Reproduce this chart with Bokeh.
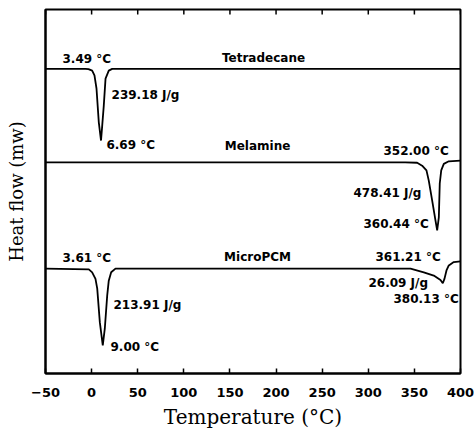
from bokeh.plotting import figure
from bokeh.models import Range1d, FixedTicker, ColumnDataSource
from bokeh.core.properties import value
from bokeh.embed import file_html
from bokeh.resources import INLINE

# ---- data ----
x_ticks = [-50, 0, 50, 100, 150, 200, 250, 300, 350, 400]

tetra_T = [-50, -6.6, -3.4, 0.6, 3.1, 5.3, 7.8, 10.2, 11.5, 13.2, 15.1, 18.6, 22.3, 400]
tetra_H = [83.7, 83.7, 83.6, 83.2, 81.9, 78.3, 69.0, 64.0, 68.1, 73.6, 81.0, 83.2, 83.7, 83.7]

mel_T = [-50, 340, 353.0, 358.4, 363.1, 365.6, 369.3, 372.9, 374.7, 376.5, 377.5, 379.1, 381.9, 387.3, 400]
mel_H = [58.0, 58.0, 57.9, 57.1, 55.8, 53.0, 47.5, 42.0, 39.3, 42.9, 52.2, 55.8, 57.6, 58.3, 58.5]

pcm_T = [-50, -3.0, 0.6, 4.2, 6.1, 8.9, 12.1, 14.3, 16.9, 18.6, 21.2, 25.9, 330,
         345.8, 360.2, 371.0, 378.3, 380.8, 382.6, 384.8, 387.3, 392.7, 400]
pcm_H = [28.8, 28.6, 27.8, 26.0, 23.3, 14.1, 7.7, 12.3, 21.4, 25.5, 27.8, 28.8, 28.8,
         28.8, 27.8, 26.9, 25.7, 24.8, 26.0, 28.3, 29.7, 30.6, 30.8]

ann_text = ["3.49 °C", "239.18 J/g", "6.69 °C",
            "352.00 °C", "478.41 J/g", "360.44 °C",
            "3.61 °C", "213.91 J/g", "9.00 °C",
            "361.21 °C", "26.09 J/g", "380.13 °C"]
ann_T = [-31.6, 21.6, 16.1, 316.5, 284.0, 294.8, -31.6, 23.7, 20.5, 307.8, 300.2, 327.3]
ann_H = [86.3, 76.6, 62.9, 61.0, 49.7, 41.2, 31.6, 18.7, 7.4, 31.9, 25.0, 20.6]

names = ["Tetradecane", "Melamine", "MicroPCM"]
name_T = [186.4, 179.9, 179.9]
name_H = [86.8, 62.4, 31.9]

Y_MIN, Y_MAX = 0, 100

# ---- figure ----
p = figure(width=474, height=432, output_backend="svg", toolbar_location=None,
           x_range=Range1d(-50, 400), y_range=Range1d(Y_MIN, Y_MAX),
           min_border_left=45, min_border_right=14, min_border_top=9, min_border_bottom=59)
p.background_fill_color = "white"
p.border_fill_color = "white"
p.outline_line_color = "black"
p.outline_line_width = 2
p.xgrid.visible = False
p.ygrid.visible = False

xa = p.xaxis[0]
xa.ticker = FixedTicker(ticks=x_ticks)
xa.minor_tick_line_color = None
xa.major_tick_in = 5
xa.major_tick_out = 0
xa.major_tick_line_width = 1.5
xa.axis_line_width = 2
xa.major_label_text_font = "DejaVu Sans"
xa.major_label_text_font_style = "bold"
xa.major_label_text_font_size = "13px"
xa.major_label_text_color = "black"
xa.major_label_standoff = 14
xa.axis_label = "Temperature (°C)"
xa.axis_label_text_font = "DejaVu Serif"
xa.axis_label_text_font_style = "normal"
xa.axis_label_text_font_size = "20px"
xa.axis_label_text_color = "black"
xa.axis_label_standoff = 5

ya = p.yaxis[0]
ya.ticker = FixedTicker(ticks=[])
ya.minor_tick_line_color = None
ya.major_tick_line_color = None
ya.axis_line_width = 2
ya.major_label_standoff = 0
ya.axis_label = "Heat flow (mw)"
ya.axis_label_text_font = "DejaVu Serif"
ya.axis_label_text_font_style = "normal"
ya.axis_label_text_font_size = "18px"
ya.axis_label_text_color = "black"
ya.axis_label_standoff = 19

# inward tick marks along the top edge, at the same tick values
top_len = (Y_MAX - Y_MIN) * 5 / 364
p.segment(x0=x_ticks, y0=[Y_MAX] * len(x_ticks), x1=x_ticks,
          y1=[Y_MAX - top_len] * len(x_ticks), line_color="black", line_width=1.5)

for T, H in ((tetra_T, tetra_H), (mel_T, mel_H), (pcm_T, pcm_H)):
    p.line(T, H, line_color="black", line_width=1.8)

src = ColumnDataSource(dict(x=ann_T, y=ann_H, t=ann_text))
p.text(x="x", y="y", text="t", source=src, text_font=value("DejaVu Sans"),
       text_font_style="bold", text_font_size="12px", text_align="left",
       text_baseline="middle", text_color="black")

src2 = ColumnDataSource(dict(x=name_T, y=name_H, t=names))
p.text(x="x", y="y", text="t", source=src2, text_font=value("DejaVu Sans"),
       text_font_style="bold", text_font_size="12px", text_align="center",
       text_baseline="middle", text_color="black")

open("out.html", "w").write(file_html(p, INLINE))
